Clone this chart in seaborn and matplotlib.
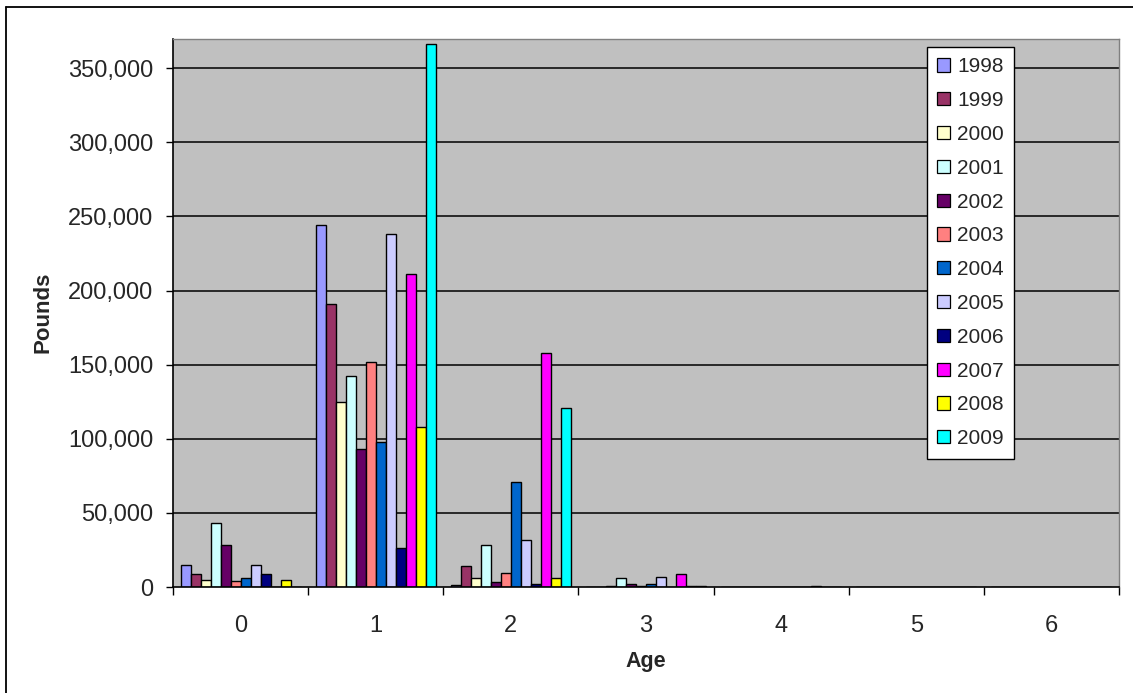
import numpy as np
import pandas as pd
import matplotlib
matplotlib.use("Agg")
import matplotlib.pyplot as plt
import seaborn as sns
from matplotlib.ticker import FuncFormatter, FixedLocator
from matplotlib.lines import Line2D

ages = ["0", "1", "2", "3", "4", "5", "6"]
years = ["1998", "1999", "2000", "2001", "2002", "2003",
         "2004", "2005", "2006", "2007", "2008", "2009"]

# pounds by year, one list per year across ages 0..6
v1998 = [15000, 244000, 1500, 0, 0, 0, 0]
v1999 = [9000, 191000, 14000, 0, 0, 0, 0]
v2000 = [4500, 125000, 6000, 1000, 0, 0, 0]
v2001 = [43000, 142000, 28000, 6000, 0, 0, 0]
v2002 = [28000, 93000, 3500, 1800, 0, 0, 0]
v2003 = [4000, 152000, 9500, 600, 0, 0, 0]
v2004 = [6000, 98000, 71000, 1800, 0, 0, 0]
v2005 = [15000, 238000, 32000, 7000, 0, 0, 0]
v2006 = [9000, 26000, 2000, 0, 0, 0, 0]
v2007 = [0, 211000, 158000, 9000, 1000, 0, 0]
v2008 = [4500, 108000, 6000, 800, 0, 0, 0]
v2009 = [0, 366000, 121000, 800, 0, 0, 0]

series = [v1998, v1999, v2000, v2001, v2002, v2003,
          v2004, v2005, v2006, v2007, v2008, v2009]

colors = ["#9999FF", "#993366", "#FFFFCC", "#CCFFFF", "#660066", "#FF8080",
          "#0066CC", "#CCCCFF", "#000080", "#FF00FF", "#FFFF00", "#00FFFF"]

rows = []
for y, vals in zip(years, series):
    for a, v in zip(ages, vals):
        rows.append({"Age": a, "Year": y, "Pounds": v})
df = pd.DataFrame(rows)

sns.set_theme(style="white")
plt.rcParams["font.family"] = ["Liberation Sans", "DejaVu Sans"]

fig = plt.figure(figsize=(11.33, 6.93), dpi=100)
ax = fig.add_axes([173 / 1133, 1 - 587 / 693, (1119 - 173) / 1133, (587 - 38.5) / 693])
ax.set_facecolor("#C0C0C0")

sns.barplot(data=df, x="Age", y="Pounds", hue="Year", order=ages, hue_order=years,
            palette=colors, width=12 / 13.5, dodge=True, saturation=1,
            edgecolor="black", linewidth=1.0, errorbar=None, ax=ax, zorder=3)

ax.set_ylim(0, 370000)
ax.set_xlim(-0.5, 6.5)
yt = np.arange(0, 350001, 50000)
ax.set_yticks(yt)
ax.yaxis.set_major_formatter(FuncFormatter(lambda v, p: f"{int(v):,}"))
ax.grid(False)
for t in yt[1:]:
    ax.axhline(t, color="black", linewidth=1.1, zorder=1)

ax.tick_params(axis="y", which="major", direction="out", length=5, width=1,
               color="black", labelsize=17, pad=9, left=True)
ax.xaxis.set_minor_locator(FixedLocator(np.arange(-0.5, 7, 1.0)))
ax.tick_params(axis="x", which="minor", direction="out", length=6, width=1,
               color="black", bottom=True)
ax.tick_params(axis="x", which="major", length=0, labelsize=17, pad=20)

for s in ["top", "right"]:
    ax.spines[s].set_color("#808080")
    ax.spines[s].set_linewidth(1)
for s in ["left", "bottom"]:
    ax.spines[s].set_color("black")
    ax.spines[s].set_linewidth(1.2)
for s in ax.spines.values():
    s.set_zorder(5)

ax.set_xlabel("Age", fontsize=15.5, fontweight="bold", labelpad=10)
ax.set_ylabel("Pounds", fontsize=16, fontweight="bold", labelpad=11)

leg = ax.legend(loc="upper left", bbox_to_anchor=((927 - 173) / 946, (587 - 47) / 548.5),
                borderaxespad=0, frameon=True, fancybox=False, shadow=False, framealpha=1,
                fontsize=15, handlelength=0.6, handleheight=0.6, handletextpad=0.35,
                labelspacing=0.71, borderpad=0.5, title=None)
leg.get_frame().set_edgecolor("black")
leg.get_frame().set_facecolor("white")
leg.get_frame().set_linewidth(1)
leg.set_zorder(10)
for h in leg.legend_handles:
    h.set_edgecolor("black")
    h.set_linewidth(0.9)

# outer chart border (left and top visible)
fig.add_artist(Line2D([6 / 1133, 6 / 1133], [0, 1 - 7 / 693], color="black", linewidth=1.3,
                      transform=fig.transFigure))
fig.add_artist(Line2D([6 / 1133, 1], [1 - 7 / 693, 1 - 7 / 693], color="black", linewidth=1.3,
                      transform=fig.transFigure))

fig.savefig("out.png", dpi=100)
